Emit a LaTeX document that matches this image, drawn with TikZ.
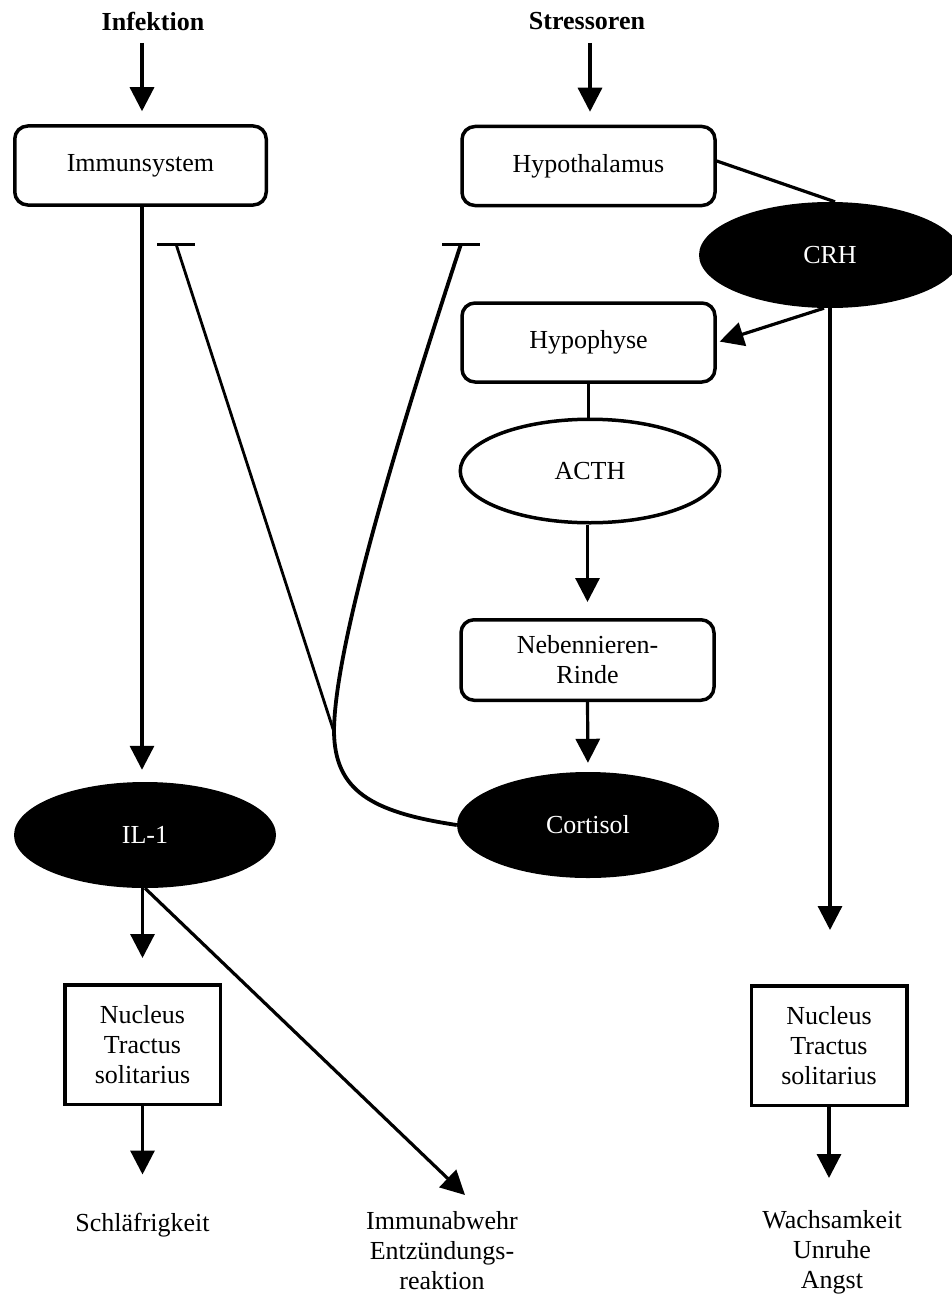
\documentclass[tikz,border=0pt]{standalone}
\usepackage{fontspec}
\setmainfont{Liberation Serif}
\usetikzlibrary{arrows.meta,shapes.geometric}
\begin{document}
\begin{tikzpicture}[x=1pt,y=-1pt,
  every node/.style={font=\fontsize{26}{30}\selectfont, inner sep=0pt},
  rbox/.style={draw, line width=3.5pt, rounded corners=13pt, minimum width=253pt, minimum height=79pt, align=center},
  sbox/.style={draw, line width=3.5pt, minimum width=155.5pt, minimum height=119.5pt, align=center},
  blackell/.style={ellipse, fill=black, text=white, minimum width=262pt, minimum height=106pt},
  whiteell/.style={ellipse, draw, line width=3.5pt, minimum width=259.5pt, minimum height=103.5pt},
  conn/.style={line width=3.2pt},
  arr/.style={conn, -{Triangle[length=24pt,width=24pt]}},
  title/.style={font=\fontsize{26}{30}\selectfont\bfseries, anchor=base},
  outcome/.style={align=center},
]
\useasboundingbox (0,0) rectangle (951,1295);

% stimuli
\node[title] (inf) at (153,31) {Infektion};
\node[title] (str) at (587,30) {Stressoren};

% left column
\node[rbox, minimum width=251.5pt] (immun) at (140.5,165.5) {Immunsystem};
\node[blackell] (il1) at (145,835) {IL-1};
\node[sbox] (nts1) at (142.5,1044.5) {Nucleus\\Tractus\\solitarius};
\node[outcome, anchor=base] (schl) at (142.5,1231) {Schläfrigkeit};
\node[outcome, anchor=north] (imm) at (442,1211) {Immunabwehr\\Entzündungs-\\reaktion};

% middle column
\node[rbox] (hypoth) at (588.5,166) {Hypothalamus};
\node[rbox] (hyp) at (588.5,342.5) {Hypophyse};
\node[whiteell] (acth) at (590,471) {ACTH};
\node[rbox, minimum height=80.5pt] (nnr) at (587.5,660) {Nebennieren-\\Rinde};
\node[blackell] (cort) at (588,825) {Cortisol};

% right column
\node[blackell] (crh) at (830,255) {CRH};
\node[sbox] (nts2) at (829,1045.5) {Nucleus\\Tractus\\solitarius};
\node[outcome, anchor=north] (wach) at (832,1210) {Wachsamkeit\\Unruhe\\Angst};

% free ends of connectors
\coordinate (infA) at (142,43);
\coordinate (strA) at (590,43);
\coordinate (crhTip) at (830,930);
\coordinate (immTip) at (465,1195);
\coordinate (barL) at (176,244);
\coordinate (barR) at (461,244);
\coordinate (join) at (334,732);

% activating connectors
\draw[arr, shorten >=13pt] (infA) -- (infA |- immun.north);
\draw[arr, shorten >=13pt] (strA) -- (strA |- hypoth.north);
\draw[arr, shorten >=12pt] (immun.south -| infA) -- (infA |- il1.north);
\draw[conn] ([yshift=5pt]hypoth.east) -- ([xshift=5pt]crh.north);
\draw[arr, shorten >=3pt] ([xshift=-6pt]crh.south) -- (hyp.east);
\draw[arr] (crh.south) -- (crhTip);
\draw[conn] (hyp.south) -- (hyp.south |- acth.north);
\draw[arr, shorten >=16pt] (nnr.north |- acth.south) -- (nnr.north);
\draw[arr, shorten >=9pt] (nnr.south) -- (cort.north);
\draw[arr, shorten >=25pt] (il1.south -| nts1.north) -- (nts1.north);
\draw[arr, shorten >=38pt] (nts1.south) -- (nts1.south |- schl.north);
\draw[arr] (il1.south) -- (immTip);
\draw[arr, shorten >=32pt] (nts2.south) -- (nts2.south |- wach.north);

% inhibiting connectors (cortisol feedback)
\draw[conn, line width=2.8pt] (barL) -- (join);
\draw[conn, line width=3pt] ([xshift=-19pt]barL) -- ([xshift=19pt]barL);
\draw[conn, line width=3pt] ([xshift=-19pt]barR) -- ([xshift=19pt]barR);
\draw[conn, line width=3.8pt] (cort.west) .. controls (370,812) and (335,790) .. (join)
  .. controls (334,640) and (410,400) .. (barR);
\end{tikzpicture}
\end{document}
